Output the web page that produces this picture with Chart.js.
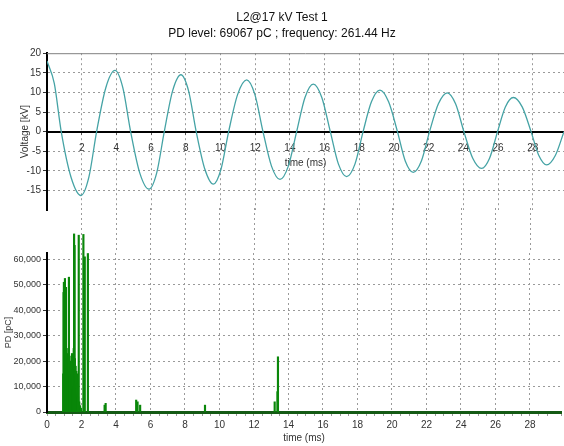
<!DOCTYPE html>
<html>
<head>
<meta charset="utf-8">
<script src="https://cdn.jsdelivr.net/npm/chart.js@4.4.1/dist/chart.umd.min.js"></script>
<style>
    html, body { margin: 0; padding: 0; background: #fff; }
    #wrap { position: relative; width: 564px; height: 446px; overflow: hidden; background: #fff; }
    #wrap canvas { position: absolute; left: 0; }
    #voltage-chart { top: 0; }
    #pd-chart { top: 200px; }
</style>
</head>
<body>
<div id="wrap">
    <canvas id="voltage-chart" width="564" height="218"></canvas>
    <canvas id="pd-chart" width="564" height="246"></canvas>
</div>
<script>
var titleLines = ['L2@17 kV Test 1', 'PD level: 69067 pC ; frequency: 261.44 Hz'];

// voltage trace (time in ms, kV)
var voltTimes = [0, 0.42,
    0.82, 1.39, 1.96, 2.41, 2.86, 3.39, 3.92, 4.37, 4.82, 5.35, 5.88, 6.32,
    6.76, 7.24, 7.72, 8.16, 8.6, 9.1, 9.59, 10.03, 10.47, 10.99, 11.51, 11.98,
    12.45, 12.94, 13.43, 13.91, 14.39, 14.87, 15.35, 15.84, 16.33, 16.8, 17.27, 17.75,
    18.22, 18.7, 19.19, 19.69, 20.2, 20.65, 21.11, 21.58, 22.05, 22.56, 23.07, 23.55,
    24.03, 24.54, 25.05, 25.51, 25.97, 26.42, 26.88, 27.39, 27.9, 28.35, 28.8, 29.3,
    29.8];
var voltValues = [18, 12.3,
    0, -11.7, -16.3, -11.7, 0, 11.2, 15.6, 11.2, 0, -10.6, -14.7, -10.6,
    0, 10.4, 14.5, 10.4, 0, -9.6, -13.4, -9.6, 0, 9.5, 13.2, 9.5,
    0, -8.8, -12.2, -8.8, 0, 8.7, 12.1, 8.7, 0, -8.3, -11.5, -8.3,
    0, 7.6, 10.6, 7.6, 0, -7.5, -10.4, -7.5, 0, 7.1, 9.9, 7.1,
    0, -6.8, -9.4, -6.8, 0, 6.3, 8.7, 6.3, 0, -6.1, -8.5, -6.1,
    0];

// PD pulses (time in ms, charge in pC)
var pdTimes = [0.94, 0.96, 0.98, 1.00, 1.02, 1.04, 1.06, 1.08, 1.10, 1.12, 1.14, 1.16,
    1.18, 1.20, 1.22, 1.24, 1.27, 1.29, 1.31, 1.33, 1.35, 1.37, 1.39, 1.41,
    1.43, 1.45, 1.47, 1.49, 1.51, 1.53, 1.55, 1.57, 1.60, 1.62, 1.64, 1.66,
    1.68, 1.70, 1.72, 1.74, 1.76, 1.78, 1.80, 1.84, 1.87, 1.92, 1.97, 2.11,
    2.14, 2.19, 2.37, 3.34, 3.40, 5.17, 5.25, 5.40, 9.16, 13.20, 13.36, 13.39];
var pdValues = [15000, 47000, 51000, 24000, 18000, 52500, 22000, 26000, 49000, 20000, 25000, 17000,
    23000, 21000, 12000, 19000, 53000, 16000, 22000, 14000, 8000, 18000, 20000, 11000,
    15000, 23000, 9000, 13000, 17000, 10000, 25000, 70000, 65500, 21000, 14000, 18000,
    12000, 16000, 9000, 11000, 7000, 15000, 6000, 69500, 4000, 2500, 1500, 69800,
    5500, 61000, 62300, 2700, 3400, 4700, 4000, 2700, 2700, 4000, 8000, 21700];

var timeTicks = [0, 2, 4, 6, 8, 10, 12, 14, 16, 18, 20, 22, 24, 26, 28];
var pdTicks = [0, 10000, 20000, 30000, 40000, 50000, 60000];

var timeMax = 29.8;
var voltMin = -20, voltMax = 20, voltStep = 5;
var pdMax = 62500;

Chart.defaults.font.family = '"Liberation Sans Narrow", "Liberation Sans", Arial, sans-serif';
Chart.defaults.font.size = 10;
Chart.defaults.color = '#333';

var gridGray = '#9a9a9a';

// solid grey line along the top of the voltage plot
var topFrame = {
    id: 'topFrame',
    afterDraw: function(chart) {
        var a = chart.chartArea, ctx = chart.ctx;
        ctx.save();
        ctx.strokeStyle = '#808080';
        ctx.lineWidth = 1;
        ctx.beginPath();
        ctx.moveTo(a.left, a.top + 0.5);
        ctx.lineTo(a.right, a.top + 0.5);
        ctx.stroke();
        ctx.restore();
    }
};

// vertical grid of the PD plot continues up into the gap between the plots
var gapGrid = {
    id: 'gapGrid',
    beforeDatasetsDraw: function(chart) {
        var a = chart.chartArea, ctx = chart.ctx, x = chart.scales.x;
        ctx.save();
        ctx.strokeStyle = gridGray;
        ctx.lineWidth = 1;
        ctx.setLineDash([2, 3]);
        x.ticks.forEach(function(t) {
            if (isMajor(t.value)) {
                var px = Math.round(x.getPixelForValue(t.value)) + 0.5;
                ctx.beginPath();
                ctx.moveTo(px, 8);
                ctx.lineTo(px, a.top);
                ctx.stroke();
            }
        });
        ctx.restore();
    }
};

function isMajor(v) {
    return v > 0 && v % 2 === 0 && v < timeMax - 0.5;
}

new Chart(document.getElementById('voltage-chart'), {
    type: 'line',
    data: {
        datasets: [{
            data: voltTimes.map(function(t, i) { return { x: t, y: voltValues[i] }; }),
            borderColor: '#45a3a5',
            borderWidth: 1.3,
            pointRadius: 0,
            cubicInterpolationMode: 'monotone',
            fill: false
        }]
    },
    options: {
        responsive: false,
        animation: false,
        layout: { padding: { left: 0, right: 0, top: 0, bottom: 2 } },
        plugins: {
            legend: { display: false },
            tooltip: { enabled: false },
            title: {
                display: true,
                text: titleLines,
                color: '#111',
                font: { size: 12, weight: 'normal', lineHeight: 1.3 },
                padding: { top: 10, bottom: 12 }
            }
        },
        scales: {
            x: {
                type: 'linear',
                min: 0,
                max: timeMax,
                position: { y: 0 },
                afterBuildTicks: function(s) {
                    s.ticks = timeTicks.map(function(v) { return { value: v }; });
                },
                ticks: {
                    autoSkip: false,
                    maxRotation: 0,
                    padding: 9,
                    callback: function(v) { return isMajor(v) ? v : ''; }
                },
                grid: {
                    color: function(c) { return c.tick && isMajor(c.tick.value) ? gridGray : 'transparent'; },
                    tickLength: 2,
                    tickColor: '#555'
                },
                border: { color: '#000', width: 2, dash: [2, 3] },
                title: { display: true, text: 'time (ms)', padding: { top: -6, bottom: 0 } }
            },
            y: {
                min: voltMin,
                max: voltMax,
                ticks: {
                    stepSize: voltStep,
                    padding: 2,
                    callback: function(v) { return v === voltMin ? '' : v; }
                },
                grid: {
                    color: function(c) {
                        var v = c.tick && c.tick.value;
                        return (v === voltMin || v === voltMax || v === 0) ? 'transparent' : gridGray;
                    },
                    tickLength: 4,
                    tickColor: function(c) { return c.tick && c.tick.value === voltMin ? 'transparent' : '#333'; }
                },
                border: { color: '#000', width: 2, dash: [2, 3] },
                title: { display: true, text: 'Voltage [kV]', padding: { top: 19, bottom: 0 } },
                afterFit: function(s) { s.width = 47; }
            }
        }
    },
    plugins: [topFrame]
});

new Chart(document.getElementById('pd-chart'), {
    type: 'bar',
    data: {
        datasets: [{
            data: pdTimes.map(function(t, i) { return { x: t, y: pdValues[i] }; }),
            backgroundColor: 'rgb(10,135,10)',
            borderWidth: 0,
            barThickness: 1.5,
            grouped: false,
            clip: false
        }]
    },
    options: {
        responsive: false,
        animation: false,
        layout: { padding: { left: 0, right: 0, top: 53, bottom: 0 } },
        plugins: {
            legend: { display: false },
            tooltip: { enabled: false }
        },
        scales: {
            x: {
                type: 'linear',
                min: 0,
                max: timeMax,
                offset: false,
                ticks: {
                    stepSize: 0.5,
                    autoSkip: false,
                    maxRotation: 0,
                    padding: 3,
                    callback: function(v) { return (v === 0 || isMajor(v)) ? v : ''; }
                },
                grid: {
                    offset: false,
                    color: function(c) { return c.tick && isMajor(c.tick.value) ? gridGray : 'transparent'; },
                    tickLength: 4,
                    tickColor: '#999'
                },
                border: { color: '#145a14', width: 3, dash: [2, 3] },
                title: { display: true, text: 'time (ms)', padding: { top: 0, bottom: 2 } },
                afterFit: function(s) { s.height = 34; }
            },
            y: {
                min: 0,
                max: pdMax,
                afterBuildTicks: function(s) {
                    s.ticks = pdTicks.map(function(v) { return { value: v }; });
                },
                ticks: {
                    padding: 2,
                    font: { size: 9 },
                    callback: function(v) { return v.toLocaleString('en-US'); }
                },
                grid: {
                    color: function(c) {
                        var v = c.tick && c.tick.value;
                        return v > 0 ? gridGray : 'transparent';
                    },
                    tickLength: 4,
                    tickColor: '#333'
                },
                border: { color: '#000', width: 2, dash: [2, 3] },
                title: { display: true, text: 'PD [pC]', font: { size: 9 }, padding: { top: 3, bottom: 0 } },
                afterFit: function(s) { s.width = 47; }
            }
        }
    },
    plugins: [gapGrid]
});
</script>
</body>
</html>
